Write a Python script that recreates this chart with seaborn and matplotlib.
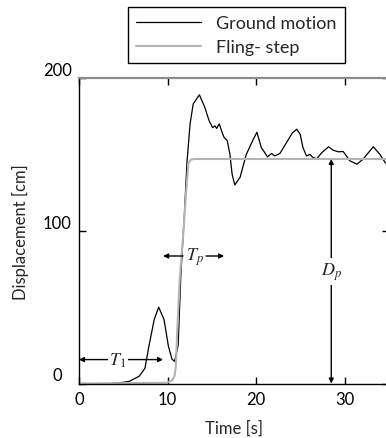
import numpy as np
import pandas as pd
import seaborn as sns
import matplotlib.pyplot as plt
from matplotlib.transforms import ScaledTranslation

# ground motion displacement
time_gm = [0, 3.5, 5.0, 5.7, 6.8, 7.45, 7.9, 8.5, 9.0, 9.6, 10.1, 10.5, 10.8, 11.2,
           11.5, 11.9, 12.2, 12.55, 12.9, 13.6, 14.2, 14.7, 15.1, 15.35, 15.55, 15.85,
           16.1, 16.4, 16.75, 17.05, 17.3, 17.6, 18.2, 18.9, 19.7, 20.1, 20.6, 21.3,
           21.75, 22.1, 22.7, 23.45, 24.1, 24.6, 25.0, 25.3, 25.7, 26.1, 26.35, 26.85,
           27.4, 28.2, 28.7, 29.3, 29.85, 30.6, 31.4, 32.1, 33.25, 34.0, 34.6, 35.0]
disp_gm = [0, 0, 0.8, 1.5, 4.8, 10, 24.5, 42, 50, 42, 24.5, 16, 14.5, 25,
           70, 110, 145, 170, 183, 189, 181, 172, 167.5, 168.7, 167, 170,
           165.5, 161, 159, 150, 137, 130, 135, 150, 160, 164.5, 154.5, 148.4,
           150.6, 149, 150.6, 157.8, 164, 166.5, 163, 154.5, 149, 150, 148.4, 147,
           151, 155, 152.8, 151.7, 151.9, 145.8, 143.6, 146.9, 155, 150, 144.6, 143]

# fling-step
time_fs = [0, 9.9, 10.5, 10.8, 10.95, 11.1, 11.4, 11.8, 12.1, 12.35, 12.6, 13.0, 35.0]
disp_fs = [0, 0.5, 2.0, 5.0, 12, 35, 70, 100, 125, 144, 146.5, 147, 147]

x_ticks = [0, 10, 20, 30]
y_ticks = [0, 100, 200]

# annotation values
t1_end, t1_level = 9.5, 15.7
tp_left, tp_right, tp_level = 9.5, 16.4, 83.5
dp_time, dp_value = 28.5, 147

gm = pd.DataFrame({'Time': time_gm, 'Disp': disp_gm})
fs = pd.DataFrame({'Time': time_fs, 'Disp': disp_fs})

sns.set_style('ticks')
plt.rcParams['font.family'] = ['Lato', 'DejaVu Sans']
plt.rcParams['mathtext.fontset'] = 'stix'

fig = plt.figure(figsize=(3.86, 4.39), dpi=100)
ax = fig.add_axes([0.2047, 0.124, 0.8025, 0.696])

sns.lineplot(data=gm, x='Time', y='Disp', ax=ax, color='black', lw=0.9, label='Ground motion')
sns.lineplot(data=fs, x='Time', y='Disp', ax=ax, color='#b4b4b4', lw=1.5, label='Fling- step')

ax.set_xlim(0, 35)
ax.set_ylim(0, 200)
ax.set_xticks(x_ticks)
ax.set_yticks(y_ticks)
ax.tick_params(direction='in', top=True, right=True, length=5, width=1, labelsize=12, colors='black')
ax.tick_params(axis='y', pad=15.5)
ax.tick_params(axis='x', pad=5)
for lbl in ax.get_yticklabels():
    lbl.set_horizontalalignment('center')
    lbl.set_transform(lbl.get_transform() + ScaledTranslation(0, 7 / 72, fig.dpi_scale_trans))

for side in ['left', 'bottom']:
    ax.spines[side].set_color('black')
    ax.spines[side].set_linewidth(1)
ax.spines['top'].set_color('#8c8c8c')
ax.spines['top'].set_linewidth(1.6)
ax.spines['right'].set_color('black')

ax.set_xlabel('Time [s]', fontsize=12)
ax.set_ylabel('Displacement [cm]', fontsize=12)
ax.xaxis.set_label_coords(0.5, -0.118)
ax.yaxis.set_label_coords(-0.16, 0.5)

# arrows
both = dict(arrowstyle='<|-|>', color='black', lw=1, mutation_scale=7, shrinkA=0, shrinkB=0)
one = dict(arrowstyle='-|>', color='black', lw=1, mutation_scale=7, shrinkA=0, shrinkB=0)
ax.annotate('', xy=(0, t1_level), xytext=(t1_end, t1_level), arrowprops=both)
ax.text(4.4, t1_level, '$T_1$', ha='center', va='center', fontsize=13,
        bbox=dict(fc='white', ec='none', pad=1))

ax.annotate('', xy=(tp_left, tp_level), xytext=(11.75, tp_level), arrowprops=one)
ax.annotate('', xy=(tp_right, tp_level), xytext=(14.35, tp_level), arrowprops=one)
ax.text(13.1, tp_level, '$T_p$', ha='center', va='center', fontsize=13)

ax.annotate('', xy=(dp_time, 0), xytext=(dp_time, dp_value), arrowprops=both)
ax.text(dp_time, 73.6, '$D_p$', ha='center', va='center', fontsize=13,
        bbox=dict(fc='white', ec='none', pad=2))

ax.get_legend().remove()
handles, labels = ax.get_legend_handles_labels()
leg = fig.legend(handles, labels, loc='center', bbox_to_anchor=(236.5 / 386, 1 - 36 / 439),
                 fontsize=13, frameon=True, fancybox=False, framealpha=1, edgecolor='black',
                 handlelength=3.6, handletextpad=0.85, labelspacing=0.45, borderpad=0.45)
leg.get_frame().set_linewidth(1)

fig.savefig('out.png', dpi=100)
